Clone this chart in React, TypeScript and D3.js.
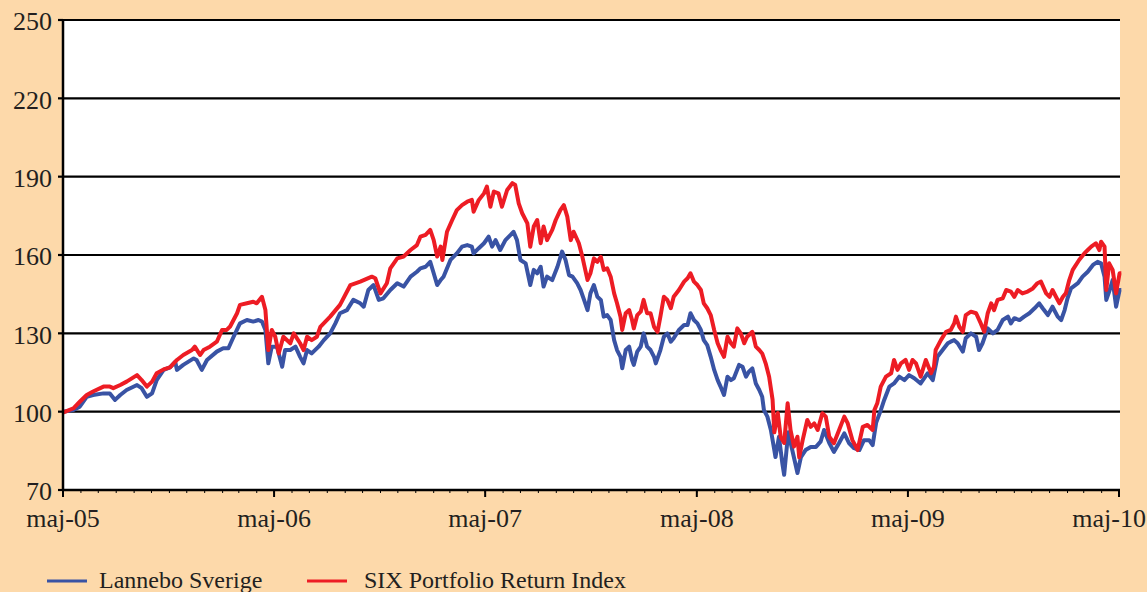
import * as d3 from "d3";

// day offset from 2005-05-01, index value
const lannebo: [number, number][] = [
  [0,100],[18,100.6],[29,101.9],[41,105.7],[52,106.4],[70,107],[81,107],[90,104.5],[99,106.4],[110,108.3],[128,110.2],[136,109],[145,105.7],[154,107],[162,112.1],[174,116],[185,117],[194,119.1],[197,116],[208,117.9],[226,120.4],[231,119.8],[240,116],[249,119.8],[266,123],[277,124.3],[286,124.3],[295,128.7],[306,133.8],[318,135.1],[329,134.5],[338,135.1],[344,134.5],[350,131.3],[355,118.5],[361,124.9],[370,124.9],[379,117.2],[384,123.6],[393,123.6],[402,124.9],[410,121],[416,118.5],[422,123.6],[430,122.3],[442,124.9],[451,127.4],[462,130],[471,133.8],[479,137.7],[491,138.9],[502,142.8],[514,141.5],[520,140.2],[528,146.6],[537,148.5],[546,142.8],[554,143.4],[566,146.6],[578,149.2],[589,147.9],[601,151.7],[612,153.6],[618,154.9],[627,155.5],[635,157.4],[641,153],[647,148.5],[653,150.4],[658,151.7],[670,158.1],[681,160.6],[690,163.2],[699,163.8],[707,163.2],[710,160.6],[719,162.6],[728,164.5],[736,167],[742,163.2],[748,165.7],[756,161.9],[765,165.7],[774,167.7],[779,168.9],[785,165.7],[791,158.1],[800,156.8],[808,148.5],[814,154.3],[820,153],[826,155.5],[831,147.9],[837,151.7],[846,150.4],[855,155.5],[863,161.3],[869,158.1],[875,152.3],[881,151.7],[889,149.2],[895,146.6],[901,142.8],[907,138.9],[912,145.3],[918,148.5],[924,144],[930,142.8],[935,136.4],[941,137],[947,135.1],[953,127.4],[958,123.6],[964,121],[967,116.6],[973,123.6],[979,124.9],[984,119.8],[987,117.9],[993,123],[999,124.9],[1004,130],[1010,124.9],[1016,123.6],[1022,121],[1025,118.5],[1033,123.6],[1039,128.7],[1045,130],[1051,126.8],[1056,128.1],[1065,131.3],[1074,133.2],[1080,133.2],[1085,137.7],[1091,135.1],[1097,133.8],[1103,131.3],[1108,127.4],[1114,125.5],[1120,121],[1126,116],[1132,112.1],[1137,109.6],[1143,106.4],[1149,113.4],[1155,112.1],[1160,112.8],[1169,117.9],[1175,117.2],[1181,113.4],[1186,115.3],[1192,116.6],[1198,110.8],[1204,108.3],[1209,105.7],[1212,100.6],[1218,98.1],[1224,93],[1230,85.3],[1232,82.6],[1238,90.4],[1244,80],[1247,75.8],[1254,92.1],[1261,85.3],[1270,76.5],[1276,82.6],[1284,85.3],[1293,86.5],[1302,86.5],[1310,88.5],[1316,93],[1325,88],[1333,84.6],[1342,88],[1351,91.7],[1359,88],[1368,86],[1377,85.3],[1385,89.1],[1394,89.1],[1400,87.2],[1406,95.7],[1414,100.5],[1420,104.5],[1429,109.6],[1437,110.8],[1446,113.4],[1455,112.1],[1463,114],[1472,112.8],[1483,110.8],[1495,114.7],[1504,112.1],[1512,121],[1521,123.6],[1530,126.2],[1535,126.8],[1541,127.4],[1547,126.2],[1556,123],[1561,128.1],[1570,130],[1579,128.7],[1584,123.6],[1590,126.2],[1599,131.9],[1608,130],[1616,131.3],[1625,135.1],[1634,136.4],[1639,133.8],[1645,135.8],[1654,135.1],[1662,136.4],[1671,137.7],[1680,139.6],[1688,141.5],[1694,139.6],[1703,137],[1711,140.2],[1720,136.4],[1726,135.1],[1732,138.9],[1737,143.4],[1743,147.2],[1755,149.2],[1763,151.7],[1772,153.6],[1781,156.2],[1789,157.4],[1795,156.8],[1801,151.7],[1804,142.8],[1809,146],[1815,150.4],[1821,140.2],[1827,146.6],[1830,146.6],
];

const six: [number, number][] = [
  [0,99.6],[18,101.3],[29,103.8],[41,106.4],[52,107.7],[70,109.6],[81,109.6],[87,109],[99,110.2],[110,111.5],[128,114],[136,112.1],[145,109.6],[154,111.5],[162,114.7],[174,116.2],[185,117],[197,119.8],[208,121.7],[223,123.6],[228,124.9],[237,121.7],[243,123.6],[254,124.9],[266,126.8],[275,131.3],[283,131.3],[289,132.6],[301,137.7],[306,140.9],[318,141.5],[329,142.1],[335,141.5],[344,144],[350,138.9],[355,123.6],[361,131.3],[367,128.7],[373,122.3],[381,128.7],[393,126.2],[399,130],[410,126.2],[416,123.6],[422,128.7],[430,127.4],[439,128.7],[445,132.5],[462,136.4],[479,140.9],[497,148.5],[514,149.8],[534,151.7],[540,151.1],[549,145.3],[560,149.2],[566,154.9],[578,158.7],[589,159.4],[601,161.9],[612,163.8],[618,167],[627,167.7],[635,169.6],[641,165.7],[647,159.4],[653,163.2],[656,158.1],[664,168.9],[673,173.4],[681,177.2],[690,179.1],[699,180.4],[707,181.1],[710,176.6],[719,181.1],[728,183.6],[733,186.2],[739,178.5],[745,184.3],[753,183.6],[759,178.5],[768,184.9],[777,187.5],[782,186.8],[788,179.8],[794,176],[803,172.1],[808,163.2],[814,170.9],[820,173.4],[826,164.5],[831,170.9],[837,165.7],[846,169.6],[852,173.4],[860,177.2],[866,179.1],[872,174.7],[878,165.7],[883,168.9],[892,164.5],[898,159.4],[907,150.4],[912,153],[918,158.7],[924,157.4],[930,159.3],[935,154.3],[941,154.9],[947,151.7],[953,145.3],[958,141.5],[964,136.4],[967,131.3],[973,137.7],[979,138.9],[984,135.1],[987,131.9],[993,137],[999,138.3],[1004,142.8],[1010,137.7],[1016,137.7],[1022,132.5],[1028,130.6],[1033,136.4],[1039,144],[1045,142.8],[1051,139.6],[1056,144],[1065,146.6],[1074,149.8],[1080,151.1],[1085,153],[1091,149.8],[1097,148.5],[1103,146.6],[1108,141.5],[1114,139.6],[1120,137],[1126,131.3],[1132,126.2],[1137,123.6],[1143,121],[1149,128.7],[1155,126.2],[1160,124.9],[1166,131.9],[1172,130],[1178,126.2],[1183,128.7],[1192,130.6],[1198,124.9],[1204,123.6],[1209,122.3],[1215,118.5],[1221,113.4],[1227,104.5],[1230,92.1],[1236,99.5],[1241,90.3],[1247,88],[1253,103.2],[1258,93],[1264,86.6],[1270,90.4],[1273,82.5],[1279,89.1],[1287,96.8],[1293,94.2],[1299,95.5],[1305,93],[1313,99.4],[1319,98.1],[1325,90.4],[1333,87.9],[1342,93],[1351,98.1],[1357,95.5],[1365,89.1],[1374,85.3],[1383,94.2],[1391,94.9],[1400,93],[1403,100.6],[1408,103.2],[1414,109.6],[1423,113.4],[1432,114.7],[1437,119.8],[1443,116],[1449,118.5],[1457,119.8],[1463,116],[1469,119.8],[1475,118.5],[1483,113.4],[1492,119.8],[1501,114.7],[1506,117.2],[1509,123.6],[1518,127.4],[1527,130.6],[1535,131.3],[1541,133.8],[1544,136.4],[1550,132.5],[1556,130.6],[1561,137],[1570,138.3],[1579,137.7],[1587,133.8],[1593,130.6],[1599,137.7],[1605,141.5],[1610,138.9],[1616,142.8],[1625,143.4],[1631,146.6],[1639,146],[1645,144],[1651,146.6],[1659,145.3],[1668,146],[1677,147.2],[1685,149.2],[1691,149.8],[1700,145.3],[1706,144],[1711,146.6],[1717,144],[1723,141.5],[1729,144],[1734,145.3],[1740,150.4],[1746,154.3],[1757,158.1],[1766,160.6],[1772,161.9],[1778,163.2],[1786,164.5],[1792,161.9],[1795,165.1],[1801,163.2],[1804,146.6],[1809,156.8],[1815,154.3],[1821,145.3],[1827,153],[1830,153],
];

const yTicks = [70, 100, 130, 160, 190, 220, 250];
const xTickLabels = ["maj-05", "maj-06", "maj-07", "maj-08", "maj-09", "maj-10"];
const seriesNames = ["Lannebo Sverige", "SIX Portfolio Return Index"];
const colors = ["#3953a4", "#ed1c24"];

const W = 1147;
const H = 592;
const m = { left: 63, right: 1119, top: 20, bottom: 490 };
const font = "'Liberation Serif', 'Times New Roman', serif";
const textColor = "#231f20";

const start = new Date(2005, 4, 1);
const toDate = (d: number) => d3.timeDay.offset(start, d);

export default function App() {
  const x = d3.scaleTime().domain([start, new Date(2010, 4, 1)]).range([m.left, m.right]);
  const y = d3.scaleLinear().domain([70, 250]).range([m.bottom, m.top]);
  const line = d3
    .line<[number, number]>()
    .x((d) => x(toDate(d[0])))
    .y((d) => y(d[1]));

  const yearTicks = xTickLabels.map((_, i) => new Date(2005 + i, 4, 1));
  const monthTicks = d3.timeMonth.range(start, new Date(2010, 4, 2));

  return (
    <>
      <style>{`body{margin:0}`}</style>
      <svg width={W} height={H} style={{ display: "block", fontFamily: font }}>
        <rect width={W} height={H} fill="#fdd9aa" />
        <rect x={m.left} y={m.top} width={1120 - m.left} height={m.bottom - m.top} fill="#fff" />

        {yTicks.map((t) => (
          <g key={t}>
            {t > 70 && (
              <line x1={m.left} x2={1120} y1={y(t)} y2={y(t)} stroke="#000" strokeWidth={2.2} />
            )}
            <line x1={m.left - 5} x2={m.left} y1={y(t)} y2={y(t)} stroke="#000" strokeWidth={2.2} />
            <text x={52} y={y(t)} dy="0.4em" textAnchor="end" fontSize={26} fill={textColor}>
              {t}
            </text>
          </g>
        ))}

        <path d={line(lannebo) ?? ""} fill="none" stroke={colors[0]} strokeWidth={4} strokeLinejoin="round" />
        <path d={line(six) ?? ""} fill="none" stroke={colors[1]} strokeWidth={4} strokeLinejoin="round" />

        {/* axes */}
        <line x1={m.left} x2={m.left} y1={m.top - 1} y2={m.bottom + 1} stroke="#000" strokeWidth={2.5} />
        <line x1={m.left} x2={m.right + 1} y1={m.bottom} y2={m.bottom} stroke="#000" strokeWidth={2.5} />
        {monthTicks.map((d, i) => (
          <line key={i} x1={x(d)} x2={x(d)} y1={m.bottom} y2={m.bottom + 3} stroke="#000" strokeWidth={1} />
        ))}
        {yearTicks.map((d, i) => {
          const px = x(d);
          const last = i === yearTicks.length - 1;
          return (
            <g key={i}>
              <line x1={px} x2={px} y1={m.bottom} y2={m.bottom + 7} stroke="#000" strokeWidth={2} />
              <text
                x={last ? W - 1 : px}
                y={527}
                textAnchor={last ? "end" : "middle"}
                fontSize={26}
                fill={textColor}
              >
                {xTickLabels[i]}
              </text>
            </g>
          );
        })}

        {/* legend */}
        {seriesNames.map((name, i) => {
          const lx = i === 0 ? 47 : 307;
          return (
            <g key={name}>
              <line x1={lx} x2={lx + 40} y1={581} y2={581} stroke={colors[i]} strokeWidth={3} />
              <text x={lx + 52 + (i === 1 ? 5 : 0)} y={588} fontSize={24} fill={textColor}>
                {name}
              </text>
            </g>
          );
        })}
      </svg>
    </>
  );
}
